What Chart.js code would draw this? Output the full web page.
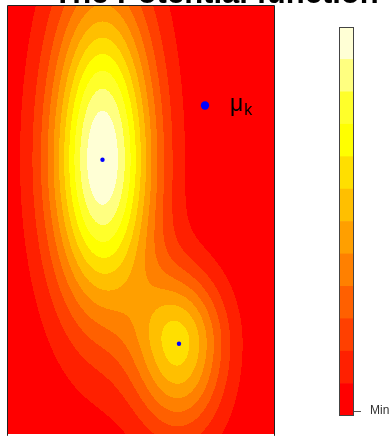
<!DOCTYPE html>
<html><head><meta charset="utf-8">
<script src="https://cdn.jsdelivr.net/npm/chart.js@4.4.1/dist/chart.umd.min.js"></script>
<style>
html,body{margin:0;padding:0;background:#fff;overflow:hidden;width:392px;height:436px}
canvas{position:absolute;left:0;top:0}
</style></head><body>
<canvas id="main" width="392" height="436"></canvas>
<canvas id="bar" width="392" height="436"></canvas>
<script>
// ---- data ----
const muX = [9.45, 17.1];          // component means (x)
const muY = [27.55, 9.05];         // component means (y)
const sdX = [3.7, 3.2];            // component spreads (x)
const sdYUp = [11.8, 5.0];         // component spreads above the mean (y)
const sdYDown = [10.8, 6.2];       // component spreads below the mean (y)
const weight = [1.0, 0.6];         // component weights
const levelColors = ['#FF0000','#FF2000','#FF4000','#FF6000','#FF8000','#FF9F00',
                     '#FFBF00','#FFDF00','#FFFF00','#FFFF2A','#FFFF80','#FFFFD5'];
const xRange = [0, 26.6];
const yRange = [0, 43.0];
const colorbarTickValues = [0.15];
const colorbarTickLabels = ['Min'];
const titleText = 'The Potential function';
const legendMain = 'μ';
const legendSub = 'k';

function potential(x, y) {
  let s = 0;
  for (let k = 0; k < muX.length; k++) {
    const a = (x - muX[k]) / sdX[k];
    const b = (y - muY[k]) / (y >= muY[k] ? sdYUp[k] : sdYDown[k]);
    s += weight[k] * Math.exp(-0.5 * (a * a + b * b));
  }
  return s;
}
function hexToRgb(h){return [parseInt(h.slice(1,3),16),parseInt(h.slice(3,5),16),parseInt(h.slice(5,7),16)];}
const rgbLevels = levelColors.map(hexToRgb);

const contourPlugin = {
  id: 'contourFill',
  beforeDatasetsDraw(chart) {
    const {ctx, chartArea: a, scales: {x, y}} = chart;
    const w = Math.round(a.right - a.left), h = Math.round(a.bottom - a.top);
    const vals = new Float32Array(w * h);
    let mn = Infinity, mx = -Infinity;
    const xs = [], ys = [];
    for (let i = 0; i < w; i++) xs.push(x.getValueForPixel(a.left + i + 0.5));
    for (let j = 0; j < h; j++) ys.push(y.getValueForPixel(a.top + j + 0.5));
    for (let j = 0; j < h; j++) for (let i = 0; i < w; i++) {
      const v = potential(xs[i], ys[j]);
      vals[j * w + i] = v;
      if (v < mn) mn = v; if (v > mx) mx = v;
    }
    const n = levelColors.length;
    const img = ctx.createImageData(w, h);
    for (let p = 0; p < w * h; p++) {
      let L = Math.floor((vals[p] - mn) / (mx - mn) * n);
      if (L >= n) L = n - 1; if (L < 0) L = 0;
      const c = rgbLevels[L];
      img.data[p * 4] = c[0]; img.data[p * 4 + 1] = c[1]; img.data[p * 4 + 2] = c[2]; img.data[p * 4 + 3] = 255;
    }
    ctx.putImageData(img, a.left, a.top);
  },
  afterDraw(chart) {
    const {ctx, chartArea: a} = chart;
    ctx.save();
    ctx.strokeStyle = '#222';
    ctx.lineWidth = 1;
    ctx.beginPath();
    ctx.moveTo(a.left - 0.5, a.bottom + 2); ctx.lineTo(a.left - 0.5, a.top - 0.5);
    ctx.lineTo(a.right + 0.5, a.top - 0.5); ctx.lineTo(a.right + 0.5, a.bottom + 2);
    ctx.stroke();
    // title
    ctx.fillStyle = '#000';
    ctx.font = 'bold 31px "Liberation Sans", Arial, sans-serif';
    ctx.textAlign = 'center';
    ctx.textBaseline = 'alphabetic';
    ctx.fillText(titleText, 216, 2.5);
    // legend
    ctx.fillStyle = '#0000FF';
    ctx.beginPath(); ctx.arc(205, 105.5, 4.2, 0, Math.PI * 2); ctx.fill();
    ctx.fillStyle = '#000';
    ctx.textAlign = 'left';
    ctx.font = '23px "Liberation Sans", Arial, sans-serif';
    ctx.fillText(legendMain, 230, 111);
    const mw = ctx.measureText(legendMain).width;
    ctx.font = '16px "Liberation Sans", Arial, sans-serif';
    ctx.fillText(legendSub, 230 + mw + 1, 115);
    ctx.restore();
  }
};

new Chart(document.getElementById('main'), {
  type: 'scatter',
  data: {datasets: [{
    data: muX.map((v, i) => ({x: v, y: muY[i]})),
    backgroundColor: '#0000FF', borderColor: '#0000FF',
    pointRadius: 2.2, pointHoverRadius: 2.2, borderWidth: 0
  }]},
  options: {
    responsive: false, animation: false, events: [],
    layout: {padding: {left: 8, top: 6, right: 118, bottom: 0}},
    scales: {
      x: {type: 'linear', min: xRange[0], max: xRange[1], display: false},
      y: {type: 'linear', min: yRange[0], max: yRange[1], display: false}
    },
    plugins: {legend: {display: false}, tooltip: {enabled: false}}
  },
  plugins: [contourPlugin]
});

const barOutline = {
  id: 'barOutline',
  afterDraw(chart) {
    const {ctx, chartArea: a} = chart;
    ctx.save();
    ctx.strokeStyle = '#444'; ctx.lineWidth = 1;
    ctx.strokeRect(a.left + 0.5, a.top + 0.5, a.right - a.left - 1, a.bottom - a.top - 1);
    ctx.restore();
  }
};

new Chart(document.getElementById('bar'), {
  type: 'bar',
  data: {labels: [''], datasets: levelColors.map(c => ({data: [1], backgroundColor: c, borderWidth: 0}))},
  options: {
    responsive: false, animation: false, events: [],
    layout: {padding: {left: 339, top: 27, right: 0, bottom: 20}},
    datasets: {bar: {barPercentage: 1, categoryPercentage: 1}},
    scales: {
      x: {display: false, stacked: true},
      y: {
        stacked: true, min: 0, max: levelColors.length, position: 'right',
        afterFit(s) { s.width = 38; },
        afterBuildTicks(s) { s.ticks = colorbarTickValues.map(v => ({value: v})); },
        ticks: {callback: (v, i) => colorbarTickLabels[i], color: '#333', padding: 9,
                font: {size: 12, family: '"Liberation Sans", Arial, sans-serif'}},
        grid: {drawOnChartArea: false, tickLength: 7, color: '#555'},
        border: {display: false}
      }
    },
    plugins: {legend: {display: false}, tooltip: {enabled: false}}
  },
  plugins: [barOutline]
});
</script>
</body></html>
